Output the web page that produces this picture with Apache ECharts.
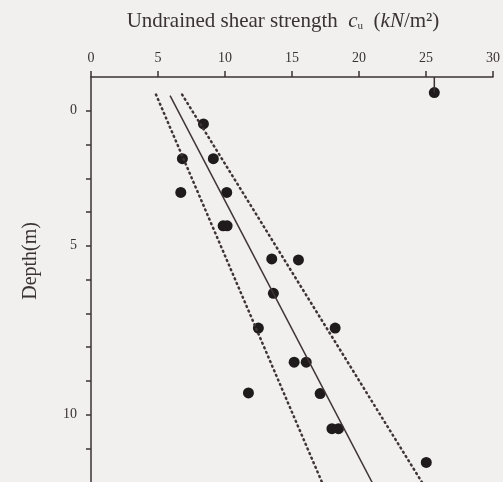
<!DOCTYPE html>
<html>
<head>
<meta charset="utf-8">
<script src="https://cdn.jsdelivr.net/npm/echarts@6/dist/echarts.min.js"></script>
<style>
  html, body { margin: 0; padding: 0; background: #f1f0ee; }
  #chart { width: 503px; height: 482px; }
</style>
</head>
<body>
<div id="chart"></div>
<script>
// measured points: undrained shear strength (kN/m2) vs depth position
var strength = [25.62, 8.39, 6.82, 9.13, 6.70, 10.13, 9.86, 10.16, 13.49, 15.48,
  13.61, 12.49, 18.22, 15.16, 16.06, 11.75, 17.10, 17.98, 18.47, 25.02];
var depth = [0.46, 1.39, 2.42, 2.42, 3.42, 3.42, 4.41, 4.41, 5.39, 5.42,
  6.41, 7.44, 7.44, 8.45, 8.45, 9.36, 9.38, 10.42, 10.42, 11.42];

// fitted trend and bounds (end points)
var meanLine = [[5.9, 0.55], [20.99, 12.02]];
var lowerLine = [[4.85, 0.52], [17.25, 12.02]];
var upperLine = [[6.8, 0.52], [24.72, 12.02]];
// stem from axis to the top point
var stemLine = [[25.62, 0], [25.62, 0.46]];

// axis ticks / labels
var xTicks = [0, 5, 10, 15, 20, 25, 30];
var yTickValues = [1, 2, 3, 4, 5, 6, 7, 8, 9, 10, 11];
var yLabelValues = [1, 5, 10];
var yLabelText = ["0", "5", "10"];

var ink = "#3a3234";
var serif = "Liberation Serif";

var chart = echarts.init(document.getElementById("chart"));

var points = strength.map(function (v, i) {
  return [v, depth[i]];
});

var options = {
  backgroundColor: "#f1f0ee",
  animation: false,
  grid: {
    left: 91,
    right: 10,
    top: 77,
    bottom: 0,
  },
  xAxis: {
    type: "value",
    position: "top",
    min: 0,
    max: 30,
    interval: 5,
    name: "{t|Undrained shear strength  }{i|c}{s|u}{t|  (}{i|kN}{t|/m²)}",
    nameLocation: "middle",
    nameGap: 45,
    nameTextStyle: {
      padding: [0, 18, 0, 0],
      rich: {
        t: { fontFamily: serif, fontSize: 21, color: ink },
        i: { fontFamily: serif, fontSize: 21, fontStyle: "italic", color: ink },
        s: { fontFamily: serif, fontSize: 11, color: ink, verticalAlign: "bottom", padding: [8, 0, 0, 0] },
      },
    },
    axisLine: {
      onZero: false,
      lineStyle: { color: ink, width: 1.5 },
    },
    axisTick: {
      show: true,
      inside: false,
      length: 6,
      lineStyle: { color: ink, width: 1.5 },
    },
    axisLabel: {
      margin: 12,
      fontFamily: serif,
      fontSize: 14,
      color: ink,
      formatter: function (v) {
        return xTicks.indexOf(v) >= 0 ? String(v) : "";
      },
    },
    splitLine: { show: false },
  },
  yAxis: {
    type: "value",
    inverse: true,
    min: 0,
    max: 12,
    interval: 1,
    axisLine: {
      onZero: false,
      lineStyle: { color: ink, width: 1.5 },
    },
    axisTick: {
      show: true,
      length: 5,
      customValues: yTickValues,
      lineStyle: { color: ink, width: 1.5 },
    },
    axisLabel: {
      margin: 14,
      fontFamily: serif,
      fontSize: 14,
      color: ink,
      customValues: yLabelValues,
      formatter: function (v) {
        var k = yLabelValues.indexOf(v);
        return k >= 0 ? yLabelText[k] : "";
      },
    },
    splitLine: { show: false },
  },
  graphic: [
    {
      type: "text",
      left: 21,
      top: 222,
      rotation: Math.PI / 2,
      style: {
        text: "Depth(m)",
        fontFamily: serif,
        fontSize: 20,
        fill: ink,
      },
    },
  ],
  series: [
    {
      type: "line",
      data: meanLine,
      showSymbol: false,
      lineStyle: { color: "#3f3537", width: 1.5 },
      silent: true,
    },
    {
      type: "line",
      data: lowerLine,
      showSymbol: false,
      lineStyle: { color: "#3f3537", width: 2.5, type: [1, 4], cap: "round" },
      silent: true,
    },
    {
      type: "line",
      data: upperLine,
      showSymbol: false,
      lineStyle: { color: "#3f3537", width: 2.5, type: [1, 4], cap: "round" },
      silent: true,
    },
    {
      type: "line",
      data: stemLine,
      showSymbol: false,
      lineStyle: { color: ink, width: 1.5 },
      silent: true,
    },
    {
      type: "scatter",
      data: points,
      symbol: "circle",
      symbolSize: 11,
      itemStyle: { color: "#1f1a1c", opacity: 1 },
    },
  ],
};

chart.setOption(options, true);
</script>
</body>
</html>
